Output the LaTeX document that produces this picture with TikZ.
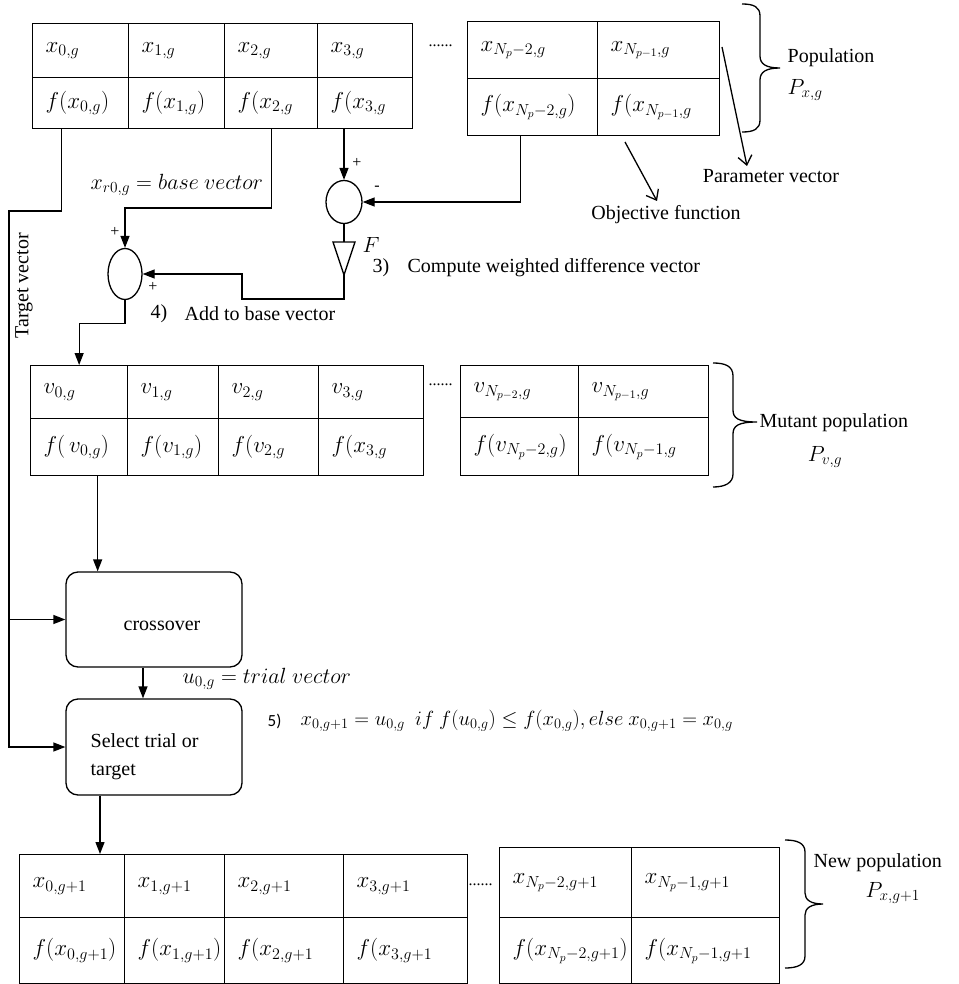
\RequirePackage{fix-cm}
\documentclass[tikz,border=0pt]{standalone}
\usepackage{fontspec}
\setmainfont{Liberation Serif}
\newfontfamily\calibrifont{Carlito}
\usetikzlibrary{arrows.meta,shapes.geometric,calc}
\newcommand\popcell[6]{%
  \node[cellbox, minimum width=#4, minimum height=#5, anchor=north west] (#1) at (#2,#3) {};
  \node[celltext] (#1t) at ([xshift=13pt]#1.west) {$#6$};
}
\begin{document}
\begin{tikzpicture}[x=1pt,y=-1pt, line width=1.3pt,
  every node/.style={font=\fontsize{20}{24}\selectfont},
  cellbox/.style={draw, rectangle, inner sep=0pt},
  celltext/.style={anchor=west, inner sep=0pt, font=\fontsize{23}{28}\selectfont},
  farrow/.style={-{Triangle[length=12pt,width=9pt]}},
  oarrow/.style={-{Straight Barb[length=9pt,width=14pt]}},
  sumnode/.style={draw, ellipse, inner sep=0pt},
  rbox/.style={draw, rectangle, rounded corners=12pt, inner sep=0pt},
  sign/.style={inner sep=0pt, font=\fontsize{16}{18}\selectfont},
  mathlab/.style={inner sep=0pt, font=\fontsize{22}{26}\selectfont},
  txt/.style={inner sep=0pt},
  dotsty/.style={inner sep=0pt, anchor=base west, font=\fontsize{16}{18}\selectfont},
]
\useasboundingbox (0,0) rectangle (958,984);

% ---- top population ----
\popcell{x0}{32}{23}{96}{54}{x_{0,g}}
\popcell{x1}{128}{23}{96}{54}{x_{1,g}}
\popcell{x2}{224}{23}{93}{54}{x_{2,g}}
\popcell{x3}{317}{23}{95}{54}{x_{3,g}}
\popcell{f0}{32}{77}{96}{51}{f(x_{0,g})}
\popcell{f1}{128}{77}{96}{51}{f(x_{1,g})}
\popcell{f2}{224}{77}{93}{51}{f(x_{2,g}}
\popcell{f3}{317}{77}{95}{51}{f(x_{3,g}}
\popcell{xa}{467}{21}{130}{57}{x_{N_p-2,g}}
\popcell{xb}{597}{21}{122}{57}{x_{N_{p-1},g}}
\popcell{fa}{467}{78}{130}{57}{f(x_{N_p-2,g})}
\popcell{fb}{597}{78}{122}{57}{f(x_{N_{p-1},g}}
\node[dotsty] (d1) at (428,47) {......};

% ---- mutant population ----
\popcell{v0}{30}{365}{97}{53}{v_{0,g}}
\popcell{v1}{127}{365}{91}{53}{v_{1,g}}
\popcell{v2}{218}{365}{100}{53}{v_{2,g}}
\popcell{v3}{318}{365}{105}{53}{v_{3,g}}
\popcell{fv0}{30}{418}{97}{57}{f(\,v_{0,g})}
\popcell{fv1}{127}{418}{91}{57}{f(v_{1,g})}
\popcell{fv2}{218}{418}{100}{57}{f(v_{2,g}}
\popcell{fv3}{318}{418}{105}{57}{f(x_{3,g}}
\popcell{va}{460}{365}{118}{52}{v_{N_{p-2},g}}
\popcell{vb}{578}{365}{130}{52}{v_{N_{p-1},g}}
\popcell{fva}{460}{417}{118}{58}{f(v_{N_p-2,g})}
\popcell{fvb}{578}{417}{130}{58}{f(v_{N_p-1,g}}
\node[dotsty] (d2) at (428,385) {......};

% ---- new population ----
\popcell{n0}{19}{854}{105}{63}{x_{0,g+1}}
\popcell{n1}{124}{854}{100}{63}{x_{1,g+1}}
\popcell{n2}{224}{854}{119}{63}{x_{2,g+1}}
\popcell{n3}{343}{854}{124}{63}{x_{3,g+1}}
\popcell{fn0}{19}{917}{105}{66}{f(x_{0,g+1})}
\popcell{fn1}{124}{917}{100}{66}{f(x_{1,g+1})}
\popcell{fn2}{224}{917}{119}{66}{f(x_{2,g+1}}
\popcell{fn3}{343}{917}{124}{66}{f(x_{3,g+1}}
\popcell{na}{499}{847}{132}{70}{x_{N_p-2,g+1}}
\popcell{nb}{631}{847}{148}{70}{x_{N_p-1,g+1}}
\popcell{fna}{499}{917}{132}{66}{f(x_{N_p-2,g+1})}
\popcell{fnb}{631}{917}{148}{66}{f(x_{N_p-1,g+1}}
\node[dotsty] (d3) at (468,885) {......};

% ---- braces and labels ----
\draw (742,4) .. controls (754,4) and (760,7) .. (760,16) -- (760,56)
  .. controls (760,64) and (766,68) .. (780,68)
  .. controls (766,68) and (760,72) .. (760,80) -- (760,120)
  .. controls (760,129) and (754,132) .. (742,132);
\node[txt, anchor=west] (poplab) at (787,58) {Population};
\node[mathlab, anchor=west] (pxg) at (787,90) {$P_{x,g}$};

\draw (713,363) .. controls (725,363) and (733,366) .. (733,376) -- (733,410)
  .. controls (733,418) and (738,422) .. (757,422)
  .. controls (738,422) and (733,426) .. (733,434) -- (733,474)
  .. controls (733,483) and (725,487) .. (713,487);
\node[txt, anchor=west] (mplab) at (759,423) {Mutant population};
\node[mathlab] (pvg) at (825,457) {$P_{v,g}$};

\draw (785,840) .. controls (797,840) and (805,843) .. (805,852) -- (805,893)
  .. controls (805,900) and (811,904) .. (823,904)
  .. controls (811,904) and (805,908) .. (805,915) -- (805,956)
  .. controls (805,965) and (797,968) .. (785,968);
\node[txt, anchor=west] (nplab) at (813,863) {New population};
\node[mathlab, anchor=west] (pxg1) at (865,893) {$P_{x,g+1}$};

\node[txt] (pvlab) at (771,176) {Parameter vector};
\node[txt] (oflab) at (666,215) {Objective function};
\coordinate (pvs) at (722,47);
\coordinate (pve) at (747,166);
\draw[oarrow] (pvs) -- (pve);
\coordinate (ofs) at (625,142);
\coordinate (ofe) at (657,201);
\draw[oarrow] (ofs) -- (ofe);

% ---- difference and sum ----
\node[sumnode, minimum width=36, minimum height=43] (c1) at (344,202) {};
\node[sumnode, minimum width=34, minimum height=51] (c2) at (125,274) {};
\coordinate (amptop) at (344,242);
\coordinate (ampapex) at (344,275);
\draw ([xshift=-11pt]amptop) -- ([xshift=11pt]amptop) -- (ampapex) -- cycle;
\node[mathlab] (flab) at (371,245) {$F$};

\draw[farrow] (f3.south -| c1.north) -- (c1.north);
\draw[farrow] ([xshift=-12pt]fa.south) |- (c1.east);
\draw (c1.south) -- (amptop);
\coordinate (bend) at (242,299);
\draw[farrow] (ampapex) |- (bend) |- (c2.east);
\coordinate (bv) at (125,208);
\draw[farrow] (f2.south) |- (bv) -- (c2.north);
\draw[farrow] (c2.south) -- ++(0,23) -| (v0.north);

\node[sign] (p1) at (357,163) {+};
\node[sign] (m1) at (377,188) {-};
\node[sign] (p2) at (115,232) {+};
\node[sign] (p3) at (153,287) {+};

\node[mathlab, anchor=west] (bvlab) at (90,185) {$x_{r0,g} = base\ vector$};
\node[txt, anchor=west] (s3) at (372,268) {3)};
\node[txt, anchor=west] (s3t) at (407,268) {Compute weighted difference vector};
\node[txt, anchor=west] (s4) at (150,314) {4)};
\node[txt, anchor=west] (s4t) at (184,314) {Add to base vector};

% ---- crossover and selection ----
\node[rbox, minimum width=176, minimum height=95] (cross) at (154,619.5) {};
\node[txt] (crosst) at (162,626) {crossover};
\node[rbox, minimum width=176, minimum height=96] (sel) at (154,747) {};
\node[txt, anchor=west, align=left, font=\fontsize{20}{28}\selectfont] (selt) at (90,757) {Select trial or\\target};

\coordinate (vout) at ([xshift=18.5pt]fv0.south);
\draw[farrow] (vout) -- (vout |- cross.north);
\draw[farrow] ([xshift=-11pt]cross.south) -- ([xshift=-11pt]sel.north);
\coordinate (sout) at ([xshift=-54pt]sel.south);
\draw[farrow] (sout) -- (sout |- n0.north);

% ---- target vector ----
\coordinate (tv0) at ([xshift=-19pt]f0.south);
\coordinate (tv1) at (9,211);
\draw[farrow] (tv0) |- (tv1) |- (sel.west);
\draw[farrow] (tv1 |- cross.west) -- (cross.west);
\node[txt, rotate=90] (tvlab) at (24,286) {Target vector};

\node[mathlab, anchor=west] (uvlab) at (182,679) {$u_{0,g} = trial\ vector$};
\node[txt, anchor=west, font=\calibrifont\fontsize{17}{20}\selectfont] (s5) at (267,721) {5)};
\node[txt, anchor=west, font=\fontsize{20.5}{24}\selectfont] (s5t) at (300,721)
  {$x_{0,g+1} = u_{0,g}\ \ if\ f\bigl(u_{0,g}\bigr) \le f\bigl(x_{0,g}\bigr),else\ x_{0,g+1} = x_{0,g}$};
\end{tikzpicture}
\end{document}
